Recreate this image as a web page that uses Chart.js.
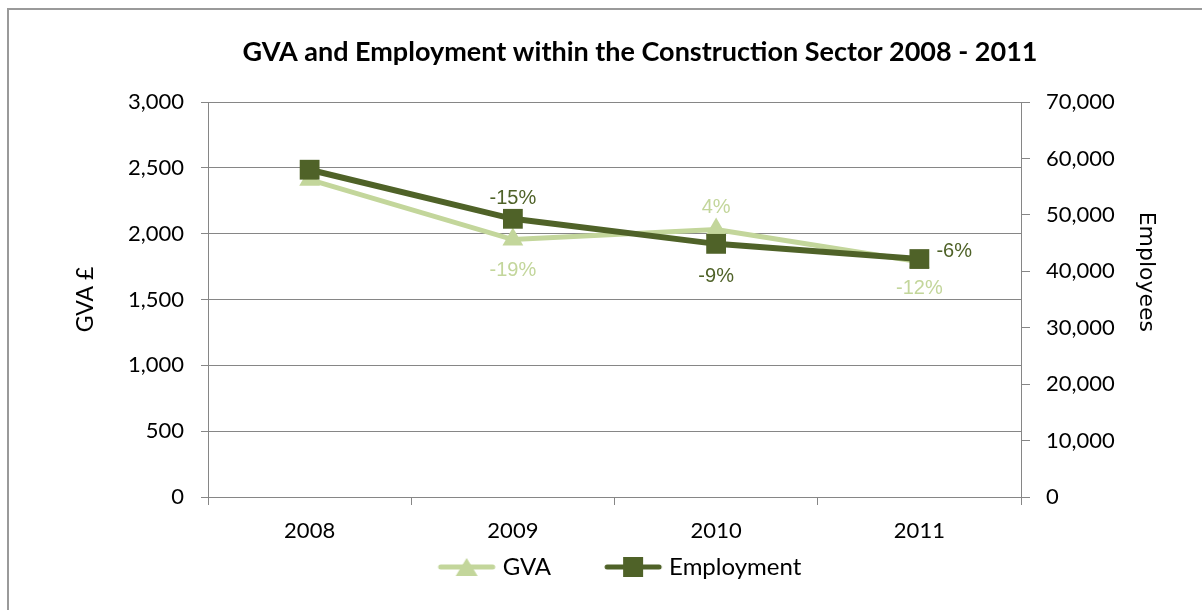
<!DOCTYPE html>
<html>
<head>
<meta charset="utf-8">
<script src="https://cdn.jsdelivr.net/npm/chart.js@4/dist/chart.umd.min.js"></script>
<style>
  html, body { margin: 0; padding: 0; background: #fff; overflow: hidden; }
  #frame { position: absolute; left: 7px; top: 8px; width: 1400px; height: 800px;
           border-left: 2px solid #9a9a9a; border-top: 2px solid #9a9a9a; }
  #wrap { position: absolute; left: 0; top: 0; width: 1202px; height: 610px; }
</style>
</head>
<body>
<div id="frame"></div>
<div id="wrap"><canvas id="chart"></canvas></div>
<script>
const years = ['2008', '2009', '2010', '2011'];
const gva = [2410, 1955, 2032, 1787];
const employment = [58000, 49300, 44860, 42170];
const chartTitle = 'GVA and Employment within the Construction Sector 2008 - 2011';

const gvaColor = '#c3d69b';
const empColor = '#4f6228';
const axisColor = '#868686';
const calibri = 'Lato, "Open Sans", sans-serif';

// small line+marker swatch for the legend
function swatch(color, shape) {
  const c = document.createElement('canvas');
  c.width = 62; c.height = 24;
  const g = c.getContext('2d');
  g.strokeStyle = color; g.lineWidth = 5; g.lineCap = 'round';
  g.beginPath(); g.moveTo(5, 12); g.lineTo(57, 12); g.stroke();
  g.fillStyle = color;
  if (shape === 'rect') {
    g.fillRect(21, 2, 20, 20);
  } else {
    g.beginPath(); g.moveTo(31, 3); g.lineTo(42, 21); g.lineTo(20, 21); g.closePath(); g.fill();
  }
  return c;
}

// percentage change labels next to each point after the first
const changeLabels = {
  id: 'changeLabels',
  afterDatasetsDraw(chart) {
    const ctx = chart.ctx;
    ctx.save();
    ctx.font = '20px "Liberation Sans", Arial, sans-serif';
    ctx.textBaseline = 'middle';
    chart.data.datasets.forEach((ds, di) => {
      const meta = chart.getDatasetMeta(di);
      ds.data.forEach((v, i) => {
        if (i === 0) return;
        const pct = Math.round((v / ds.data[i - 1] - 1) * 100);
        const p = meta.data[i];
        const [dx, dy, align] = ds.labelOffset[i];
        ctx.textAlign = align;
        ctx.fillStyle = ds.borderColor;
        ctx.fillText(pct + '%', p.x + dx, p.y + dy);
      });
    });
    ctx.restore();
  }
};

// chart heading and the right axis title
const headings = {
  id: 'headings',
  afterDraw(chart) {
    const a = chart.chartArea;
    const ctx = chart.ctx;
    ctx.save();
    ctx.fillStyle = '#000';
    ctx.textAlign = 'center';
    ctx.textBaseline = 'middle';
    ctx.font = 'bold 27px ' + calibri;
    ctx.fillText(chartTitle, 640, 52);
    ctx.translate(1146, a.top + (a.bottom - a.top) * 0.43);
    ctx.rotate(Math.PI / 2);
    ctx.font = '22px "DejaVu Sans", sans-serif';
    ctx.fillText('Employees', 0, 0);
    ctx.restore();
  }
};

new Chart(document.getElementById('chart'), {
  type: 'line',
  data: {
    labels: years,
    datasets: [
      {
        label: 'Employment',
        data: employment,
        yAxisID: 'y1',
        borderColor: empColor,
        backgroundColor: empColor,
        borderWidth: 6,
        pointStyle: 'rect',
        pointRadius: 14,
        pointHoverRadius: 14,
        pointBorderWidth: 0,
        tension: 0,
        labelOffset: [null, [0, -20, 'center'], [0, 33, 'center'], [17, -8, 'left']]
      },
      {
        label: 'GVA',
        data: gva,
        yAxisID: 'y',
        borderColor: gvaColor,
        backgroundColor: gvaColor,
        borderWidth: 5,
        pointStyle: 'triangle',
        pointRadius: 12,
        pointHoverRadius: 12,
        pointBorderWidth: 0,
        tension: 0,
        labelOffset: [null, [0, 31, 'center'], [0, -22, 'center'], [0, 27, 'center']]
      }
    ]
  },
  options: {
    responsive: true,
    maintainAspectRatio: false,
    animation: false,
    layout: { padding: { left: 72, right: 30, top: 102, bottom: 21 } },
    plugins: {
      title: { display: false },
      legend: {
        position: 'bottom',
        labels: {
          color: '#000',
          font: { family: calibri, size: 24 },
          usePointStyle: true,
          pointStyleWidth: 48,
          padding: 10,
          generateLabels: () => [
            { text: 'GVA\u2003\u2003\u2002', pointStyle: swatch(gvaColor, 'tri'), fillStyle: gvaColor, strokeStyle: gvaColor, lineWidth: 0, datasetIndex: 1 },
            { text: 'Employment', pointStyle: swatch(empColor, 'rect'), fillStyle: empColor, strokeStyle: empColor, lineWidth: 0, datasetIndex: 0 }
          ]
        }
      },
      tooltip: { enabled: false }
    },
    scales: {
      x: {
        offset: true,
        grid: { offset: true, drawOnChartArea: false, color: axisColor, tickLength: 8 },
        border: { color: axisColor, width: 1 },
        ticks: { color: '#000', font: { family: calibri, size: 22 }, padding: 13 },
        afterFit: s => { s.height = 48; }
      },
      y: {
        position: 'left',
        min: 0, max: 3000,
        ticks: { stepSize: 500, color: '#000', font: { family: calibri, size: 22 }, padding: 17,
                 callback: v => v.toLocaleString('en-US') },
        grid: { color: axisColor, tickLength: 7 },
        border: { color: axisColor, width: 1 },
        title: { display: true, text: 'GVA £', color: '#000', font: { family: calibri, size: 23 }, padding: 0 },
        afterFit: s => { s.width = 136; }
      },
      y1: {
        position: 'right',
        min: 0, max: 70000,
        ticks: { stepSize: 10000, color: '#000', font: { family: calibri, size: 22 }, padding: 16,
                 callback: v => v.toLocaleString('en-US') },
        grid: { drawOnChartArea: false, color: axisColor, tickLength: 9 },
        border: { color: axisColor, width: 1 },
        afterFit: s => { s.width = 151; }
      }
    }
  },
  plugins: [changeLabels, headings]
});
</script>
</body>
</html>
